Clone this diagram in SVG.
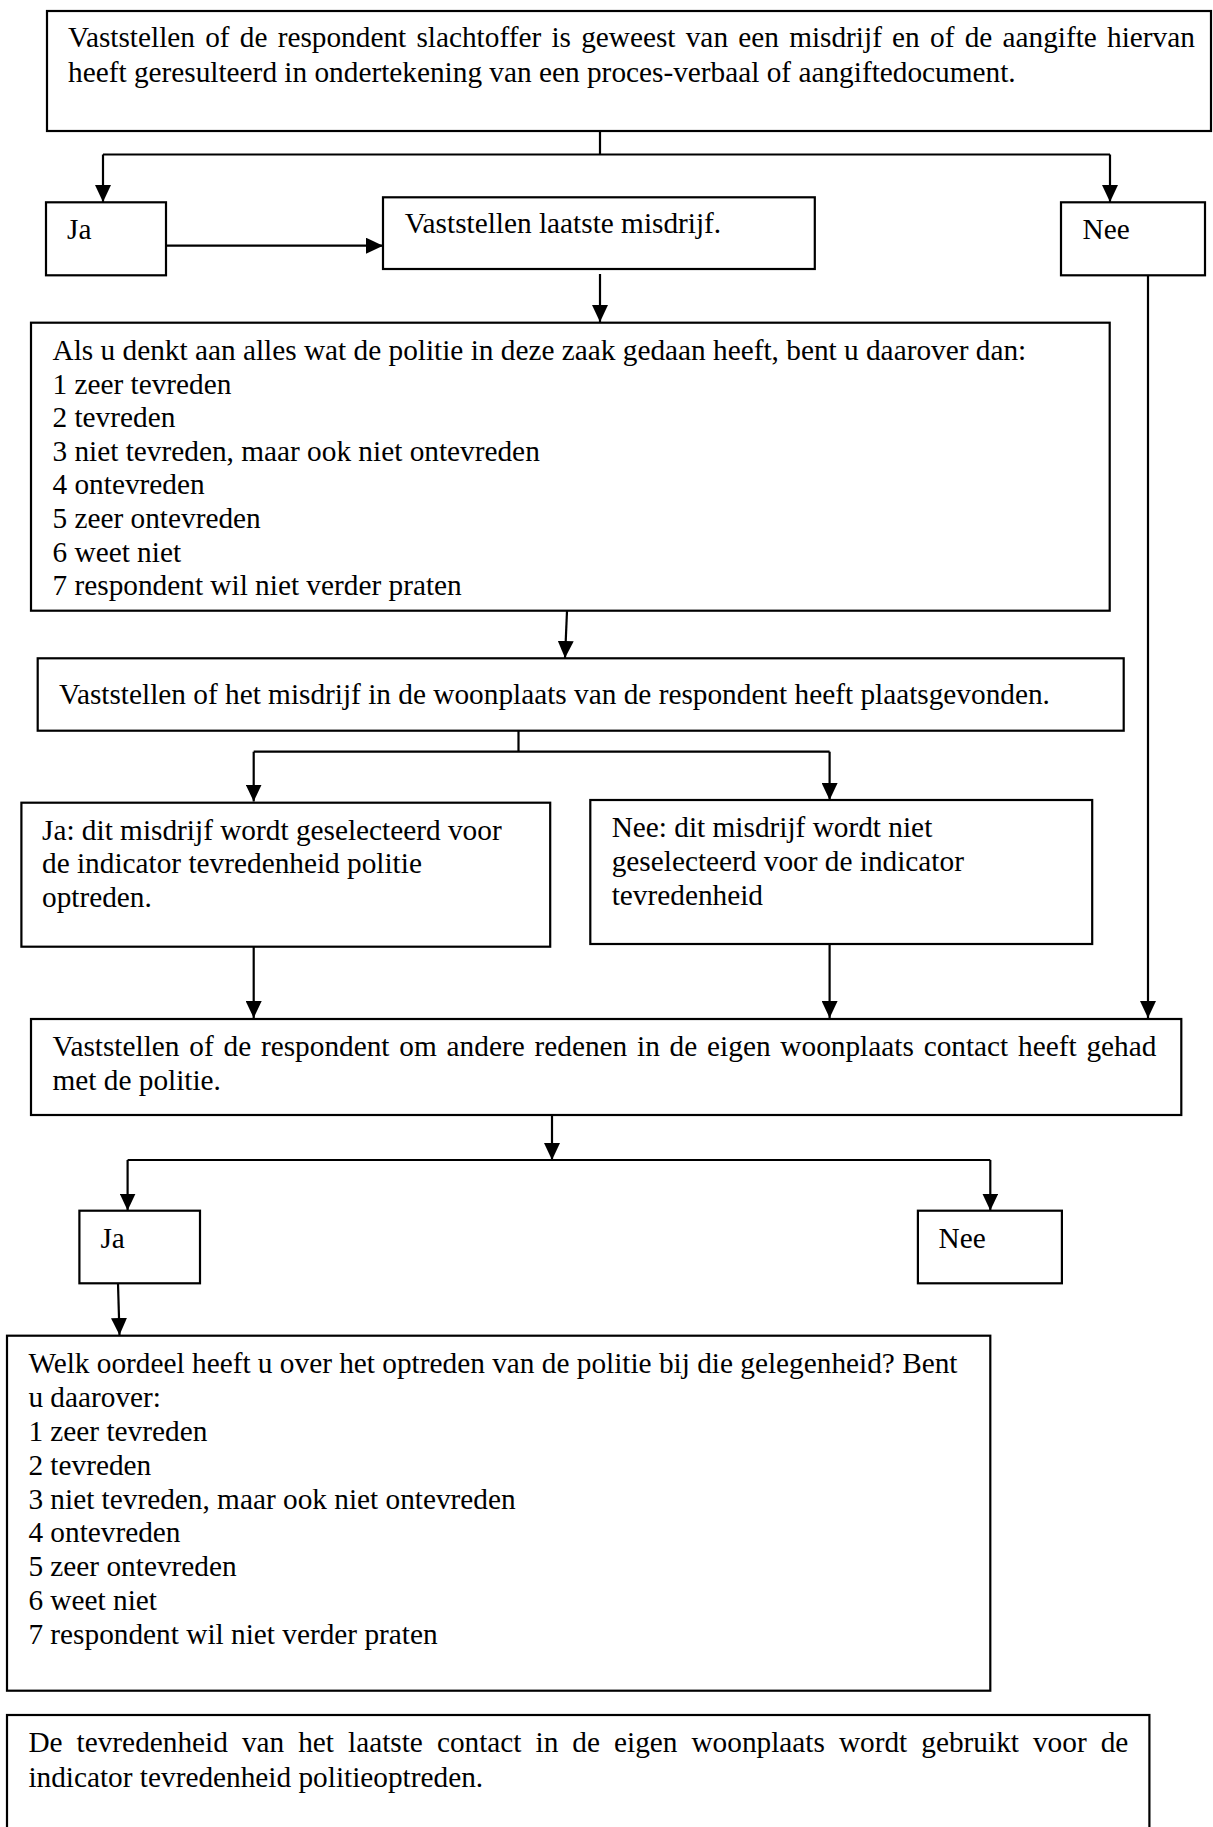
<svg xmlns="http://www.w3.org/2000/svg" width="1213" height="1827" viewBox="0 0 1213 1827">
<style>
.box{fill:#fff;stroke:#000;stroke-width:2.2}
.t{font-family:"Liberation Serif","Times New Roman",serif;font-size:29.3px;fill:#000}
.c{fill:none;stroke:#000;stroke-width:2.2}
</style>
<defs>
<marker id="ah" markerUnits="userSpaceOnUse" markerWidth="18" markerHeight="16" refX="17" refY="8" orient="auto">
<path d="M0,0 L17,8 L0,16 z" fill="#000"/>
</marker>
</defs>
<rect width="1213" height="1827" fill="#fff"/>
<g id="connectors">
<path class="c" d="M600,131 V154.5 M103,154.5 H1110"/>
<path class="c" d="M103,154.5 V202" marker-end="url(#ah)"/>
<path class="c" d="M1110,154.5 V202" marker-end="url(#ah)"/>
<path class="c" d="M166,245.7 H383" marker-end="url(#ah)"/>
<path class="c" d="M600,274 V322" marker-end="url(#ah)"/>
<path class="c" d="M1148,275 V1018" marker-end="url(#ah)"/>
<path class="c" d="M567,611 L565,658" marker-end="url(#ah)"/>
<path class="c" d="M518.5,731 V751.7 M253.7,751.7 H829.6"/>
<path class="c" d="M253.7,751.7 V801.5" marker-end="url(#ah)"/>
<path class="c" d="M829.6,751.7 V800" marker-end="url(#ah)"/>
<path class="c" d="M253.7,947 V1018" marker-end="url(#ah)"/>
<path class="c" d="M829.6,944 V1018" marker-end="url(#ah)"/>
<path class="c" d="M552,1115 V1160" marker-end="url(#ah)"/>
<path class="c" d="M127.6,1160 H990.3"/>
<path class="c" d="M127.6,1160 V1210.5" marker-end="url(#ah)"/>
<path class="c" d="M990.3,1160 V1210.5" marker-end="url(#ah)"/>
<path class="c" d="M118,1283.5 L119.5,1335" marker-end="url(#ah)"/>
</g>
<g id="n_start">
<rect class="box" x="47" y="11" width="1164" height="120"/>
<text class="t" x="68" y="47" word-spacing="2.9">Vaststellen of de respondent slachtoffer is geweest van een misdrijf en of de aangifte hiervan</text>
<text class="t" x="68" y="82">heeft geresulteerd in ondertekening van een proces-verbaal of aangiftedocument.</text>
</g>
<g id="n_ja1">
<rect class="box" x="46" y="202.3" width="120" height="73"/>
<text class="t" x="67" y="239.3">Ja</text>
</g>
<g id="n_laatste">
<rect class="box" x="383" y="197.3" width="431.8" height="71.7"/>
<text class="t" x="404.7" y="233.3">Vaststellen laatste misdrijf.</text>
</g>
<g id="n_nee1">
<rect class="box" x="1061" y="202.3" width="144" height="73"/>
<text class="t" x="1082.5" y="239.3">Nee</text>
</g>
<g id="n_tevreden1">
<rect class="box" x="31" y="322.7" width="1078.7" height="288"/>
<text class="t" x="52.5" y="360">Als u denkt aan alles wat de politie in deze zaak gedaan heeft, bent u daarover dan:</text>
<text class="t" x="52.5" y="393.6">1 zeer tevreden</text>
<text class="t" x="52.5" y="427.2">2 tevreden</text>
<text class="t" x="52.5" y="460.8">3 niet tevreden, maar ook niet ontevreden</text>
<text class="t" x="52.5" y="494.4">4 ontevreden</text>
<text class="t" x="52.5" y="528">5 zeer ontevreden</text>
<text class="t" x="52.5" y="561.6">6 weet niet</text>
<text class="t" x="52.5" y="595.2">7 respondent wil niet verder praten</text>
</g>
<g id="n_woonplaats">
<rect class="box" x="37.7" y="658.3" width="1086" height="72.4"/>
<text class="t" x="59" y="704">Vaststellen of het misdrijf in de woonplaats van de respondent heeft plaatsgevonden.</text>
</g>
<g id="n_ja2">
<rect class="box" x="21.4" y="802.7" width="528.8" height="144"/>
<text class="t" x="42" y="840">Ja: dit misdrijf wordt geselecteerd voor</text>
<text class="t" x="42" y="873.3">de indicator tevredenheid politie</text>
<text class="t" x="42" y="906.7">optreden.</text>
</g>
<g id="n_nee2">
<rect class="box" x="590.3" y="800" width="501.9" height="144"/>
<text class="t" x="611.7" y="836.7">Nee: dit misdrijf wordt niet</text>
<text class="t" x="611.7" y="870.7">geselecteerd voor de indicator</text>
<text class="t" x="611.7" y="905">tevredenheid</text>
</g>
<g id="n_contact">
<rect class="box" x="31" y="1019" width="1150.3" height="96"/>
<text class="t" x="52.5" y="1056" word-spacing="2.5">Vaststellen of de respondent om andere redenen in de eigen woonplaats contact heeft gehad</text>
<text class="t" x="52.5" y="1090">met de politie.</text>
</g>
<g id="n_ja3">
<rect class="box" x="79.4" y="1210.7" width="120.6" height="72.6"/>
<text class="t" x="100.4" y="1247.7">Ja</text>
</g>
<g id="n_nee3">
<rect class="box" x="917.9" y="1210.7" width="144" height="72.6"/>
<text class="t" x="938.5" y="1247.7">Nee</text>
</g>
<g id="n_oordeel">
<rect class="box" x="7" y="1335.7" width="983.3" height="355"/>
<text class="t" x="28.4" y="1373.3">Welk oordeel heeft u over het optreden van de politie bij die gelegenheid? Bent</text>
<text class="t" x="28.4" y="1407.3">u daarover:</text>
<text class="t" x="28.4" y="1441">1 zeer tevreden</text>
<text class="t" x="28.4" y="1474.8">2 tevreden</text>
<text class="t" x="28.4" y="1508.6">3 niet tevreden, maar ook niet ontevreden</text>
<text class="t" x="28.4" y="1542.4">4 ontevreden</text>
<text class="t" x="28.4" y="1576.2">5 zeer ontevreden</text>
<text class="t" x="28.4" y="1610">6 weet niet</text>
<text class="t" x="28.4" y="1643.8">7 respondent wil niet verder praten</text>
</g>
<g id="n_eind">
<rect class="box" x="7" y="1715" width="1142.4" height="130"/>
<text class="t" x="28.4" y="1751.7" word-spacing="6.7">De tevredenheid van het laatste contact in de eigen woonplaats wordt gebruikt voor de</text>
<text class="t" x="28.4" y="1786.7">indicator tevredenheid politieoptreden.</text>
</g>
</svg>
